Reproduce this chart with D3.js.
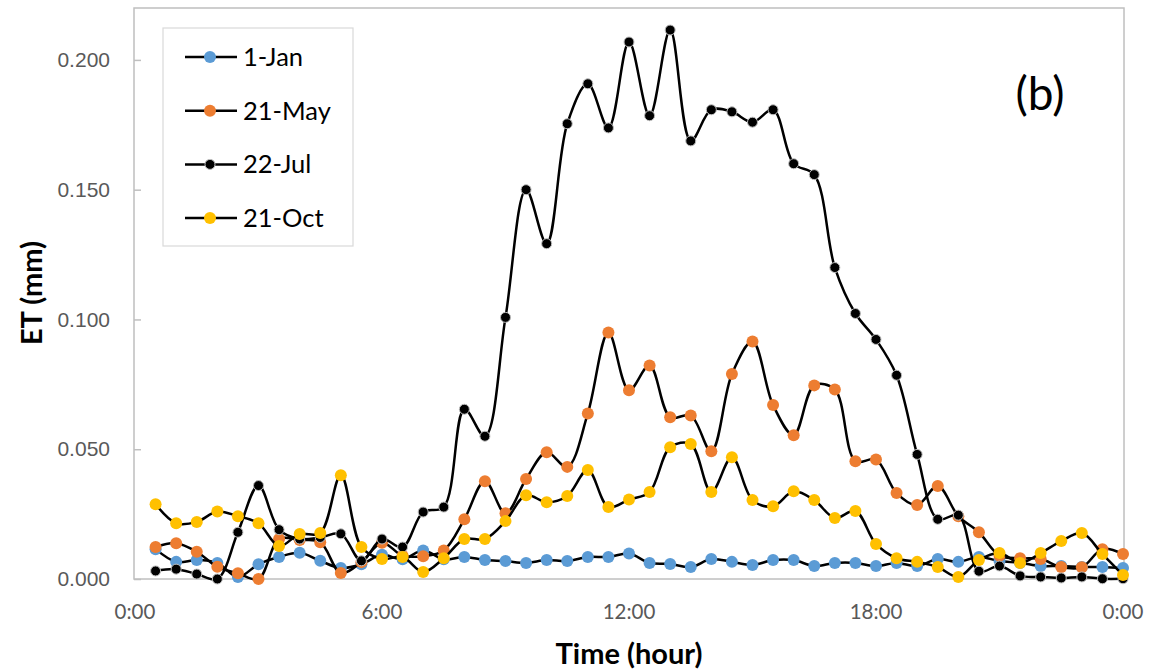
<!DOCTYPE html>
<html>
<head>
<meta charset="utf-8">
<script src="https://cdn.jsdelivr.net/npm/d3@7"></script>
<style>
  body { margin: 0; background: #fff; }
  svg { display: block; font-family: Lato, "Open Sans", sans-serif; }
</style>
</head>
<body>
<svg id="chart"></svg>
<script>
// Half-hour steps from 0:30 to 24:00
const hours = d3.range(1, 49).map((i) => i * 0.5);

const jan1 = [0.0115, 0.0066, 0.0073, 0.0062, 0.0008, 0.0057, 0.0085, 0.0101, 0.0070, 0.0042, 0.0057, 0.0093,
  0.0076, 0.0110, 0.0076, 0.0085, 0.0073, 0.0069, 0.0062, 0.0073, 0.0069, 0.0085, 0.0085, 0.0098,
  0.0062, 0.0058, 0.0046, 0.0077, 0.0066, 0.0054, 0.0073, 0.0073, 0.0050, 0.0062, 0.0062, 0.0050,
  0.0062, 0.0050, 0.0077, 0.0066, 0.0085, 0.0069, 0.0062, 0.0050, 0.0050, 0.0046, 0.0046, 0.0042];

const may21 = [0.0123, 0.0138, 0.0105, 0.0047, 0.0022, 0.0000, 0.0154, 0.0150, 0.0142, 0.0023, 0.0065, 0.0140,
  0.0090, 0.0088, 0.0110, 0.0230, 0.0377, 0.0253, 0.0385, 0.0488, 0.0432, 0.0638, 0.0950, 0.0727,
  0.0823, 0.0623, 0.0630, 0.0492, 0.0790, 0.0915, 0.0670, 0.0554, 0.0746, 0.0730, 0.0454, 0.0460,
  0.0331, 0.0285, 0.0358, 0.0242, 0.0180, 0.0090, 0.0080, 0.0077, 0.0046, 0.0045, 0.0115, 0.0096];

const jul22 = [0.0031, 0.0038, 0.0019, 0.0000, 0.0180, 0.0360, 0.0190, 0.0154, 0.0160, 0.0174, 0.0070, 0.0154,
  0.0123, 0.0258, 0.0277, 0.0654, 0.0550, 0.1008, 0.1500, 0.1292, 0.1754, 0.1908, 0.1738, 0.2069,
  0.1785, 0.2115, 0.1688, 0.1808, 0.1800, 0.1760, 0.1808, 0.1600, 0.1558, 0.1200, 0.1023, 0.0923,
  0.0785, 0.0480, 0.0230, 0.0246, 0.0030, 0.0050, 0.0012, 0.0008, 0.0004, 0.0008, 0.0001, 0.0001];

const oct21 = [0.0288, 0.0215, 0.0220, 0.0260, 0.0242, 0.0215, 0.0127, 0.0173, 0.0177, 0.0400, 0.0123, 0.0077,
  0.0085, 0.0027, 0.0080, 0.0154, 0.0154, 0.0223, 0.0323, 0.0296, 0.0320, 0.0420, 0.0277, 0.0306,
  0.0335, 0.0508, 0.0520, 0.0335, 0.0469, 0.0304, 0.0280, 0.0338, 0.0304, 0.0235, 0.0262, 0.0135,
  0.0080, 0.0066, 0.0046, 0.0008, 0.0073, 0.0100, 0.0062, 0.0100, 0.0146, 0.0177, 0.0096, 0.0015];

const seriesNames = ["1-Jan", "21-May", "22-Jul", "21-Oct"];
const seriesValues = [jan1, may21, jul22, oct21];
const seriesColors = ["#5B9BD5", "#ED7D31", "#000000", "#FFC000"];

const xTicks = [0, 6, 12, 18, 24];
const xTickLabels = ["0:00", "6:00", "12:00", "18:00", "0:00"];
const yTicks = [0, 0.05, 0.1, 0.15, 0.2];

const W = 1170, H = 669;
const margin = { top: 8, right: 47, bottom: 90, left: 135 };

const svg = d3.select("#chart").attr("width", W).attr("height", H);

const x = d3.scaleLinear().domain([0, 24]).range([margin.left, W - margin.right]);
const y = d3.scaleLinear().domain([0, 0.22]).range([H - margin.bottom, margin.top]);

// Plot frame
svg.append("rect")
  .attr("x", x(0) - 1)
  .attr("y", margin.top)
  .attr("width", x(24) - x(0) + 2)
  .attr("height", y(0) - margin.top)
  .attr("fill", "none")
  .attr("stroke", "#bfbfbf")
  .attr("stroke-width", 1.5);

// Y axis (ticks pointing inward)
const yAxis = svg.append("g")
  .attr("transform", `translate(${x(0) - 1},0)`)
  .call(d3.axisRight(y).tickValues(yTicks).tickSize(7).tickFormat(d3.format(".3f")));
yAxis.select(".domain").remove();
yAxis.selectAll("line").attr("stroke", "#bfbfbf").attr("stroke-width", 1.5);
yAxis.selectAll("text")
  .attr("x", -24)
  .attr("text-anchor", "end")
  .style("font-size", "21px")
  .style("fill", "#595959");

// X axis labels
svg.append("g")
  .selectAll("text")
  .data(xTicks)
  .join("text")
  .attr("x", (d) => x(d))
  .attr("y", 619)
  .attr("text-anchor", "middle")
  .style("font-size", "20.5px")
  .style("fill", "#595959")
  .text((d, i) => xTickLabels[i]);

// Axis titles
svg.append("text")
  .attr("x", x(12))
  .attr("y", 664)
  .attr("text-anchor", "middle")
  .style("font-size", "29px")
  .style("font-weight", "bold")
  .style("fill", "#000")
  .text("Time (hour)");

svg.append("text")
  .attr("transform", `translate(42,293) rotate(-90)`)
  .attr("text-anchor", "middle")
  .style("font-size", "29px")
  .style("font-weight", "bold")
  .style("fill", "#000")
  .text("ET (mm)");

// Panel label
svg.append("text")
  .attr("x", 1040)
  .attr("y", 110)
  .attr("text-anchor", "middle")
  .style("font-size", "46px")
  .style("fill", "#000")
  .text("(b)");

// Smoothed lines with markers
const line = d3.line()
  .x((d, i) => x(hours[i]))
  .y((d) => y(d))
  .curve(d3.curveCatmullRom.alpha(0.5));

seriesValues.forEach((vals, s) => {
  const g = svg.append("g").attr("class", "series");
  g.append("path")
    .datum(vals)
    .attr("fill", "none")
    .attr("stroke", "#000")
    .attr("stroke-width", 2.5)
    .attr("d", line);

  const isBlack = seriesColors[s] === "#000000";
  g.selectAll("circle")
    .data(vals)
    .join("circle")
    .attr("cx", (d, i) => x(hours[i]))
    .attr("cy", (d) => y(d))
    .attr("r", isBlack ? 5 : 6)
    .attr("fill", seriesColors[s])
    .attr("stroke", isBlack ? "#bfbfbf" : "none")
    .attr("stroke-width", isBlack ? 1 : 0);
});

// Legend
const legend = svg.append("g").attr("transform", "translate(163,28)");
legend.append("rect")
  .attr("width", 190)
  .attr("height", 218)
  .attr("fill", "#fff")
  .attr("stroke", "#d9d9d9")
  .attr("stroke-width", 1.2);

seriesNames.forEach((name, i) => {
  const item = legend.append("g").attr("transform", `translate(0,${29 + i * 53.7})`);
  item.append("line")
    .attr("x1", 22).attr("x2", 74)
    .attr("stroke", "#000").attr("stroke-width", 2.5);
  const isBlack = seriesColors[i] === "#000000";
  item.append("circle")
    .attr("cx", 47)
    .attr("r", isBlack ? 5 : 6)
    .attr("fill", seriesColors[i])
    .attr("stroke", isBlack ? "#bfbfbf" : "none")
    .attr("stroke-width", 1);
  item.append("text")
    .attr("x", 80)
    .attr("y", 9)
    .style("font-size", "25.5px")
    .style("fill", "#000")
    .text(name);
});
</script>
</body>
</html>
